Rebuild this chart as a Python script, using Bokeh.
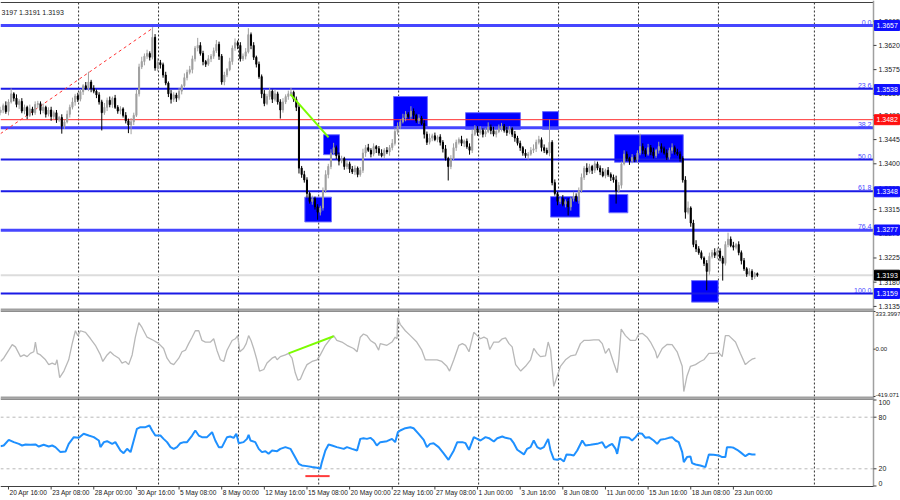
from bokeh.plotting import figure
from bokeh.models import Range1d, ColumnDataSource
from bokeh.core.properties import value
from bokeh.embed import file_html
from bokeh.resources import INLINE

# ---------------- data (GBPUSD H4) ----------------
OPEN_FIRST = 1.3495
CLOSE = [
    1.3500, 1.3508, 1.3497, 1.3515, 1.3530, 1.3522, 1.3510, 1.3516, 1.3498, 1.3505, 1.3490, 1.3502, 1.3495, 1.3510, 1.3512,
    1.3499, 1.3505, 1.3492, 1.3500, 1.3488, 1.3495, 1.3482, 1.3486, 1.3470, 1.3478, 1.3492, 1.3505, 1.3515, 1.3526, 1.3520,
    1.3534, 1.3545, 1.3540, 1.3552, 1.3540, 1.3535, 1.3528, 1.3515, 1.3495, 1.3505, 1.3518, 1.3510, 1.3522, 1.3505, 1.3498,
    1.3502, 1.3490, 1.3480, 1.3472, 1.3478, 1.3490, 1.3530, 1.3580, 1.3590, 1.3600, 1.3605, 1.3598, 1.3635, 1.3578, 1.3588,
    1.3584, 1.3565, 1.3550, 1.3530, 1.3520, 1.3528, 1.3522, 1.3535, 1.3545, 1.3560, 1.3570, 1.3575, 1.3595, 1.3615, 1.3620,
    1.3605, 1.3590, 1.3585, 1.3595, 1.3600, 1.3610, 1.3622, 1.3600, 1.3552, 1.3565, 1.3575, 1.3590, 1.3615, 1.3625, 1.3620,
    1.3595, 1.3600, 1.3608, 1.3640, 1.3620, 1.3598, 1.3585, 1.3562, 1.3530, 1.3512, 1.3525, 1.3535, 1.3520, 1.3530, 1.3515,
    1.3500, 1.3515, 1.3525, 1.3530, 1.3533, 1.3520, 1.3505, 1.3392, 1.3380, 1.3370, 1.3345, 1.3330, 1.3335, 1.3320, 1.3310,
    1.3318, 1.3350, 1.3380, 1.3395, 1.3420, 1.3430, 1.3415, 1.3405, 1.3410, 1.3395, 1.3400, 1.3390, 1.3385, 1.3392, 1.3380,
    1.3388, 1.3420, 1.3430, 1.3425, 1.3418, 1.3432, 1.3428, 1.3420, 1.3415, 1.3425, 1.3422, 1.3430, 1.3438, 1.3460, 1.3470,
    1.3478, 1.3485, 1.3492, 1.3488, 1.3498, 1.3490, 1.3480, 1.3485, 1.3475, 1.3455, 1.3440, 1.3448, 1.3452, 1.3445, 1.3450,
    1.3440, 1.3428, 1.3410, 1.3395, 1.3410, 1.3430, 1.3440, 1.3445, 1.3438, 1.3442, 1.3432, 1.3425, 1.3455, 1.3465, 1.3458,
    1.3462, 1.3455, 1.3460, 1.3468, 1.3462, 1.3455, 1.3460, 1.3465, 1.3470, 1.3462, 1.3458, 1.3465, 1.3455, 1.3448, 1.3438,
    1.3430, 1.3420, 1.3415, 1.3418, 1.3425, 1.3428, 1.3440, 1.3445, 1.3430, 1.3425, 1.3420, 1.3440, 1.3365, 1.3345, 1.3330,
    1.3335, 1.3325, 1.3330, 1.3320, 1.3335, 1.3340, 1.3332, 1.3350, 1.3375, 1.3392, 1.3385, 1.3395, 1.3388, 1.3400, 1.3392,
    1.3385, 1.3378, 1.3388, 1.3380, 1.3375, 1.3370, 1.3350, 1.3360, 1.3400, 1.3418, 1.3410, 1.3405, 1.3412, 1.3408, 1.3420,
    1.3432, 1.3425, 1.3418, 1.3430, 1.3422, 1.3415, 1.3425, 1.3432, 1.3428, 1.3420, 1.3412, 1.3425, 1.3430, 1.3422, 1.3418,
    1.3410, 1.3370, 1.3310, 1.3318, 1.3290, 1.3250, 1.3242, 1.3235, 1.3225, 1.3215, 1.3200, 1.3228, 1.3235, 1.3230, 1.3238,
    1.3225, 1.3215, 1.3250, 1.3260, 1.3248, 1.3245, 1.3250, 1.3235, 1.3220, 1.3205, 1.3195, 1.3200, 1.3190, 1.3196, 1.3193,
]
# upper / lower wick lengths in pips
WICK_UP = [
    6, 4, 8, 5, 10, 3, 7, 4, 6, 5, 3, 8, 4, 6, 5,
    4, 7, 3, 5, 6, 4, 5, 3, 6, 4, 7, 5, 8, 4, 6,
    5, 3, 7, 19, 4, 6, 3, 5, 4, 8, 5, 7, 3, 6, 4,
    5, 3, 6, 4, 7, 5, 8, 6, 9, 5, 7, 4, 19, 6, 8,
    5, 4, 6, 3, 7, 5, 4, 6, 3, 8, 5, 7, 6, 4, 14,
    6, 5, 3, 7, 4, 6, 8, 5, 4, 6, 3, 7, 5, 8, 4,
    6, 5, 7, 12, 4, 6, 3, 5, 4, 7, 5, 6, 3, 8, 4,
    5, 7, 4, 6, 8, 3, 5, 6, 4, 7, 5, 3, 6, 4, 5,
    4, 6, 8, 5, 7, 9, 4, 6, 5, 3, 7, 4, 6, 5, 3,
    6, 8, 5, 7, 4, 6, 3, 5, 7, 4, 6, 5, 8, 6, 7,
    5, 8, 6, 4, 9, 5, 3, 7, 4, 6, 5, 8, 4, 6, 3,
    5, 4, 7, 3, 6, 8, 5, 4, 7, 3, 5, 6, 9, 7, 5,
    8, 4, 6, 9, 5, 7, 3, 8, 6, 4, 7, 5, 3, 6, 4,
    5, 3, 7, 4, 6, 8, 5, 7, 4, 6, 5, 42, 4, 6, 3,
    5, 7, 4, 6, 3, 8, 5, 6, 7, 4, 9, 5, 3, 6, 4,
    5, 7, 3, 6, 4, 5, 8, 6, 4, 7, 5, 3, 6, 4, 5,
    24, 6, 4, 7, 5, 8, 3, 9, 6, 4, 7, 5, 8, 4, 6,
    5, 4, 7, 12, 3, 6, 8, 5, 4, 3, 6, 7, 5, 8, 6,
    5, 4, 6, 12, 5, 7, 3, 6, 4, 5, 3, 6, 4, 3, 2,
]
WICK_DN = [
    5, 6, 4, 7, 3, 6, 5, 8, 4, 6, 7, 3, 5, 4, 6,
    7, 5, 6, 4, 8, 5, 6, 4, 14, 5, 3, 6, 4, 7, 5,
    4, 6, 3, 5, 7, 4, 6, 5, 33, 4, 7, 5, 6, 3, 5,
    6, 4, 5, 15, 17, 6, 3, 5, 4, 7, 5, 6, 4, 5, 6,
    7, 5, 4, 6, 8, 5, 7, 4, 6, 3, 5, 4, 7, 5, 6,
    4, 7, 5, 3, 6, 5, 4, 7, 5, 6, 4, 3, 6, 5, 7,
    5, 4, 6, 3, 7, 5, 6, 4, 8, 5, 3, 6, 7, 4, 5,
    16, 5, 4, 6, 3, 5, 7, 10, 6, 5, 8, 4, 6, 5, 14,
    6, 5, 4, 7, 5, 3, 6, 8, 4, 6, 5, 7, 4, 6, 5,
    4, 5, 7, 3, 6, 4, 8, 5, 3, 6, 4, 7, 5, 4, 6,
    5, 3, 6, 4, 5, 7, 4, 6, 3, 8, 5, 4, 6, 3, 5,
    6, 7, 4, 26, 5, 3, 6, 4, 5, 7, 4, 8, 5, 3, 6,
    4, 6, 5, 3, 7, 4, 6, 3, 5, 4, 6, 3, 5, 7, 4,
    6, 5, 4, 7, 3, 5, 6, 4, 7, 5, 3, 6, 5, 4, 7,
    5, 4, 6, 16, 7, 5, 3, 6, 4, 5, 6, 3, 7, 5, 4,
    6, 3, 5, 4, 7, 5, 24, 4, 6, 3, 5, 7, 4, 5, 6,
    4, 7, 5, 3, 6, 5, 4, 6, 7, 3, 5, 4, 6, 5, 3,
    6, 5, 12, 4, 7, 5, 6, 4, 3, 5, 35, 6, 4, 5, 7,
    6, 32, 4, 5, 3, 6, 4, 5, 7, 4, 5, 3, 6, 4, 3,
]
PIP = 0.0001

# CCI (bar position, value)
CCI_X = [0.0, 1.2, 3.1, 4.4, 5.6, 7.5, 8.8, 10.0, 11.2, 12.5, 13.1, 13.8, 15.0, 16.9, 18.1, 19.4, 20.6, 21.2, 22.2, 23.8,
         25.6, 26.9, 28.1, 29.0, 30.0, 31.9, 33.8, 35.6, 37.5, 38.4, 40.0, 41.2, 42.5, 44.4, 45.6, 46.9, 48.1, 49.4, 50.6, 51.9,
         53.1, 55.0, 57.5, 59.4, 61.2, 62.5, 63.8, 65.0, 66.9, 68.1, 69.4, 70.6, 71.9, 73.1, 74.4, 75.6, 76.9, 78.8, 80.0, 81.2,
         82.5, 83.8, 85.0, 86.9, 88.1, 89.0, 89.8, 91.2, 92.2, 93.1, 94.0, 95.0, 96.2, 97.2, 98.8, 100.0, 101.9, 103.1, 103.8, 105.0,
         106.9, 108.1, 109.4, 110.6, 111.6, 112.5, 113.8, 115.0, 116.9, 118.8, 120.0, 121.9, 123.8, 125.0, 126.2, 128.1, 130.0, 132.5, 133.8, 135.0,
         136.2, 137.5, 138.8, 140.6, 141.9, 142.5, 145.0, 146.9, 148.1, 148.8, 149.0, 150.0, 151.9, 153.8, 156.2, 158.1, 159.4, 161.2, 163.8, 165.6,
         167.5, 168.5, 170.1, 172.0, 173.3, 174.5, 175.8, 177.6, 178.9, 180.1, 181.4, 182.6, 183.6, 185.1, 187.0, 188.3, 189.5, 190.8, 192.0, 193.3,
         195.2, 197.0, 198.9, 200.1, 201.4, 202.6, 204.5, 205.5, 206.4, 207.6, 208.9, 210.1, 212.0, 213.9, 215.8, 217.6, 218.9, 220.8, 222.6, 224.5,
         225.8, 227.0, 228.3, 230.1, 231.4, 232.0, 232.9, 234.5, 236.4, 238.3, 239.5, 240.8, 242.6, 243.9, 245.8, 246.4, 248.3, 250.2, 252.0, 253.9,
         255.8, 256.4, 257.6, 258.9, 260.8, 262.6, 263.9, 265.8, 267.6, 269.5, 270.8, 272.0, 273.3, 275.8, 277.6, 279.5, 280.8, 282.0, 283.3]
CCI_V = [-109, -80, -9, 40, 20, -66, -51, -66, -37, -23, 63, -37, -51, -94, -137, -123, -137, -94, -252, -194,
         -94, 49, 163, 120, 163, 149, 92, 34, -51, -109, -51, -23, -51, -80, -123, -109, -137, -51, 106, 235,
         192, 106, 77, 49, 6, -80, -123, -137, -80, -23, -9, 49, 106, 163, 163, 77, 63, 63, 92, -9,
         -94, -109, -9, 77, 92, 120, -23, 6, 49, 120, 77, 6, -94, -194, -180, -123, -80, -66, -94, -66,
         -51, -37, -80, -209, -275, -266, -194, -137, -109, -94, -51, 34, 92, 120, 77, 63, 34, 6, -23, 106,
         134, 120, 77, 49, -9, 49, 34, 63, 106, 92, 277, 220, 163, 120, 63, -9, -94, -94, -94, -109,
         -152, -194, -94, 34, 49, 34, -23, 149, 120, 92, 106, 92, -3, 63, 63, 92, 100, 49, 20, -137,
         -194, -152, -94, 6, -37, -66, -60, 63, -9, -329, -237, -152, -94, -60, -51, 49, 77, 77, 83, 83,
         49, -37, 6, -123, -209, -94, 177, 120, 77, 77, 134, 140, 106, 63, -23, -80, 6, 43, 40, -23,
         -152, -375, -237, -152, -137, -109, -94, -37, -37, -31, -66, 120, 120, 63, -37, -137, -109, -89, -80]

# RSI (bar position, value)
RSI_X = [0.0, 1.2, 3.1, 5.0, 6.9, 8.1, 9.4, 11.2, 13.1, 14.4, 16.2, 18.1, 19.4, 20.6, 22.5, 24.4, 25.6, 27.5, 29.4, 31.2,
         33.1, 35.0, 36.9, 37.5, 38.8, 40.0, 41.9, 43.1, 45.0, 46.2, 47.5, 48.8, 50.0, 51.2, 52.5, 54.4, 55.9, 56.9, 58.1, 60.0,
         61.2, 62.5, 63.8, 65.0, 66.2, 67.5, 68.8, 70.0, 71.9, 73.1, 74.4, 75.6, 77.5, 79.4, 80.6, 81.9, 83.1, 85.0, 86.2, 87.5,
         88.5, 89.4, 91.2, 92.5, 93.1, 93.8, 95.6, 96.9, 98.1, 99.4, 100.6, 101.9, 103.8, 105.0, 106.9, 108.8, 110.0, 111.9, 113.1, 115.0,
         116.9, 118.8, 120.0, 120.6, 121.9, 123.1, 124.4, 126.2, 128.8, 130.0, 131.9, 133.8, 135.0, 136.2, 137.5, 138.8, 140.0, 141.2, 142.5, 145.0,
         146.9, 148.1, 149.1, 150.0, 151.9, 153.8, 155.0, 156.9, 158.8, 160.0, 161.2, 162.5, 164.4, 166.2, 168.1, 170.1, 171.4, 173.3, 174.5, 175.8,
         177.6, 178.9, 180.1, 182.0, 183.3, 185.1, 186.4, 188.3, 189.5, 191.4, 192.6, 193.9, 196.4, 197.6, 198.9, 200.1, 201.4, 202.6, 203.9, 205.5,
         206.4, 207.6, 208.9, 210.1, 211.4, 212.4, 213.9, 215.1, 216.4, 218.3, 219.5, 221.4, 223.9, 225.8, 227.0, 228.3, 229.5, 230.8, 231.4, 232.6,
         234.5, 235.8, 237.0, 238.3, 239.5, 240.8, 242.0, 243.3, 245.1, 246.4, 247.6, 249.5, 250.8, 252.0, 253.3, 254.5, 255.8, 256.4, 257.6, 258.9,
         259.5, 260.8, 262.6, 264.5, 265.8, 267.6, 269.5, 270.8, 272.0, 272.6, 273.9, 275.1, 276.4, 277.6, 279.5, 280.8, 282.0, 283.3]
RSI_V = [46.3, 47.1, 53.7, 51.0, 49.0, 47.1, 48.3, 47.9, 48.3, 45.9, 47.9, 45.9, 47.1, 45.2, 39.4, 40.1, 49.0, 56.8, 56.0, 60.7,
         58.7, 56.8, 52.9, 45.2, 51.0, 52.1, 49.0, 51.0, 41.3, 38.2, 43.2, 39.4, 52.9, 66.5, 68.4, 68.4, 70.3, 64.5, 58.7, 58.7,
         54.8, 51.0, 45.2, 43.2, 45.2, 49.8, 51.0, 51.0, 58.7, 64.5, 58.7, 56.8, 56.8, 62.6, 52.9, 45.2, 45.2, 56.8, 57.6, 56.0,
         60.7, 49.8, 51.0, 54.8, 59.5, 52.9, 51.0, 43.2, 39.4, 40.5, 37.4, 41.3, 40.5, 43.2, 45.2, 43.2, 36.7, 25.8, 23.9, 23.1,
         22.0, 21.2, 20.0, 27.8, 41.3, 48.3, 47.1, 45.2, 43.2, 45.2, 43.2, 41.3, 54.8, 55.6, 54.8, 56.0, 52.9, 47.1, 51.0, 52.1,
         54.8, 51.0, 62.6, 64.5, 67.2, 68.4, 67.2, 60.7, 53.7, 45.2, 49.0, 49.8, 45.2, 38.2, 30.5, 41.3, 51.0, 51.0, 49.8, 42.1,
         56.8, 54.8, 52.9, 56.8, 55.6, 51.7, 55.6, 57.6, 56.0, 54.8, 49.8, 42.1, 36.7, 43.2, 45.2, 52.9, 45.2, 43.2, 45.2, 54.8,
         41.3, 31.2, 30.5, 31.6, 28.5, 36.7, 36.3, 35.5, 41.3, 52.9, 47.1, 47.9, 49.0, 51.0, 44.4, 47.1, 49.0, 43.2, 37.4, 56.8,
         56.8, 56.0, 52.9, 56.8, 61.4, 60.7, 56.0, 56.8, 52.9, 49.0, 53.7, 54.8, 56.0, 56.8, 52.9, 51.0, 39.4, 27.8, 33.6, 34.3,
         26.6, 25.0, 23.9, 22.0, 36.7, 36.3, 35.5, 33.6, 33.6, 45.2, 45.2, 44.4, 42.1, 39.4, 34.7, 37.4, 36.7, 36.7]

# drawn objects
BOX_LEFT = [114.2, 121.2, 147.5, 174.5, 203.4, 206.4, 228.3, 230.4, 259.3]
BOX_RIGHT = [124.2, 127.2, 160.2, 195.1, 209.4, 217.3, 235.4, 256.2, 269.3]
BOX_TOP = [1.3338, 1.3454, 1.3525, 1.3495, 1.3497, 1.3339, 1.3343, 1.3454, 1.3183]
BOX_BOTTOM = [1.3292, 1.3417, 1.3469, 1.3464, 1.3464, 1.3301, 1.3309, 1.3403, 1.3143]

FIB_NAMES = ["0.0", "23.6", "38.2", "50.0", "61.8", "76.4", "100.0"]
FIB_PRICES = [1.3657, 1.35395, 1.34668, 1.3408, 1.33492, 1.32765, 1.3159]
FIB_WIDTH = [3, 2, 3, 2, 2, 3, 2]
FIB_COLOR = ["#4646ff", "#1a1ae6", "#4646ff", "#1a1ae6", "#1a1ae6", "#4646ff", "#1a1ae6"]

TAG_PRICES = [1.3657, 1.3538, 1.3482, 1.3348, 1.3277, 1.3193, 1.3159]
TAG_TEXTS = ["1.3657", "1.3538", "1.3482", "1.3348", "1.3277", "1.3193", "1.3159"]
TAG_COLORS = ["#1010ff", "#1010ff", "#ff1010", "#1010ff", "#1010ff", "#000000", "#1010ff"]

RED_LEVEL = 1.3482
BID_LEVEL = 1.3193

FIB_TREND_X = [0.0, 57.4]
FIB_TREND_Y = [1.3456, 1.3653]
GREEN_PRICE_X = [108.8, 123.1]
GREEN_PRICE_Y = [1.3529, 1.3449]
GREEN_CCI_X = [108.1, 125.0]
GREEN_CCI_Y = [-37, 114]
RED_RSI_X = [114.4, 123.5]
RED_RSI_Y = [11.5, 11.5]

PRICE_TICKS = [1.3135, 1.3180, 1.3225, 1.3270, 1.3315, 1.3355, 1.3400, 1.3445, 1.3490, 1.3530, 1.3575, 1.3620, 1.3665]
TIME_TICKS = [3, 19, 35, 51, 67, 83, 99, 115, 131, 147, 163, 179, 195, 211, 227, 243, 259, 275]
TIME_LABELS = ["20 Apr 16:00", "23 Apr 08:00", "28 Apr 00:00", "30 Apr 16:00", "5 May 08:00", "8 May 00:00",
               "12 May 16:00", "15 May 08:00", "20 May 00:00", "22 May 16:00", "27 May 08:00", "1 Jun 00:00",
               "3 Jun 16:00", "8 Jun 08:00", "11 Jun 00:00", "15 Jun 16:00", "18 Jun 08:00", "23 Jun 00:00"]
GRID_BARS = [29.3, 59.3, 89.3, 119.4, 149.4, 179.4, 209.4, 239.4, 269.4, 305.4]

CCI_TOP, CCI_BOTTOM = 333.3997, -419.071
CCI_TICKS = [333.3997, 0.0, -419.071]
CCI_TICK_TEXT = ["333.3997", "0.00", "-419.071"]
CCI_TICK_BASE = ["top", "middle", "bottom"]
RSI_TICKS = [100, 80, 20, 0]
RSI_TICK_TEXT = ["100", "80", "20", "0"]
RSI_TICK_BASE = ["top", "middle", "middle", "bottom"]
RSI_LEVELS = [80, 20]
HEADER = "3197 1.3191 1.3193"

# ---------------- layout: pixel geometry of the terminal window ----------------
W, H = 900, 500
PX_PER_BAR = 2.665
AXIS_PX = 873            # right price-scale line
PANEL_TOP, PANEL_BOTTOM = 2, 486
FONT = "Liberation Sans"
FS = "7px"
FS_TIME = "6.6px"

X_MAX = W / PX_PER_BAR
AXIS_X = AXIS_PX / PX_PER_BAR


def frame_range(v1, y1, v2, y2):
    k = (v1 - v2) / (y1 - y2)
    return v1 + (H - y1) * k, v1 + (0 - y1) * k


p_start, p_end = frame_range(1.3657, 25, 1.3159, 293)
c_start, c_end = frame_range(CCI_TOP, 311, CCI_BOTTOM, 396)
r_start, r_end = frame_range(100, 399.5, 0, 485.5)
PX_PRICE = (p_end - p_start) / H


def price_at(y):
    return p_end - y * PX_PRICE


def bars(px):
    return px / PX_PER_BAR


p = figure(width=W, height=H, x_range=Range1d(0, X_MAX), y_range=Range1d(p_start, p_end),
           x_axis_location=None, y_axis_location=None, title=None,
           output_backend="svg", toolbar_location=None,
           min_border_left=0, min_border_right=0, min_border_top=0, min_border_bottom=0)
p.extra_y_ranges = {"cci": Range1d(c_start, c_end), "rsi": Range1d(r_start, r_end)}
p.outline_line_color = None
p.background_fill_color = "white"
p.border_fill_color = "white"
p.grid.visible = False


def txt(x, y, text, align="left", base="middle", color="#202020", size=FS, xo=0, yo=0, rng="default"):
    p.text(x=x, y=y, text=text, text_align=align, text_baseline=base, text_color=color,
           text_font=value(FONT), text_font_size=value(size), x_offset=xo, y_offset=yo, y_range_name=rng)


# vertical dashed grid (through all three panels)
p.segment(x0=GRID_BARS, x1=GRID_BARS, y0=[price_at(PANEL_TOP)] * len(GRID_BARS),
          y1=[price_at(PANEL_BOTTOM)] * len(GRID_BARS), line_color="#303030", line_dash="2 2", line_width=1)

# panel borders and separators
BORDER_Y = [PANEL_TOP, 310.6, 398.6]
p.segment(x0=[0] * 3, x1=[AXIS_X] * 3, y0=[price_at(y) for y in BORDER_Y], y1=[price_at(y) for y in BORDER_Y],
          line_color="#404040", line_width=1)
SEP_Y = [309, 397]
p.segment(x0=[0] * 2, x1=[AXIS_X] * 2, y0=[price_at(y) for y in SEP_Y], y1=[price_at(y) for y in SEP_Y],
          line_color="#a0a0a0", line_width=2)

# boxes
p.quad(left=BOX_LEFT, right=BOX_RIGHT, top=BOX_TOP, bottom=BOX_BOTTOM,
       fill_color="#0000ff", line_color="#7070ff", line_width=1)

# horizontal levels
p.segment(x0=[0], x1=[AXIS_X], y0=[BID_LEVEL], y1=[BID_LEVEL], line_color="#dcdcdc", line_width=2)
p.segment(x0=[0], x1=[AXIS_X], y0=[RED_LEVEL], y1=[RED_LEVEL], line_color="#ff3030", line_width=1)
k = len(FIB_PRICES)
p.segment(x0=[0] * k, x1=[AXIS_X] * k, y0=FIB_PRICES, y1=FIB_PRICES, line_color=FIB_COLOR, line_width=FIB_WIDTH)

p.line(FIB_TREND_X, FIB_TREND_Y, line_color="#ff3030", line_dash="3 3", line_width=1)

# candles
n = min(len(CLOSE), len(WICK_UP), len(WICK_DN))
xs = list(range(n))
opens = [OPEN_FIRST] + CLOSE[:n - 1]
closes = CLOSE[:n]
highs = [max(o, c) + u * PIP for o, c, u in zip(opens, closes, WICK_UP)]
lows = [min(o, c) - d * PIP for o, c, d in zip(opens, closes, WICK_DN)]
cols = ["#a0a0a0" if c >= o else "#000000" for o, c in zip(opens, closes)]
src = ColumnDataSource(dict(x=xs, h=highs, l=lows,
                            top=[max(a, b) for a, b in zip(opens, closes)],
                            bot=[min(a, b) for a, b in zip(opens, closes)], col=cols))
p.segment(x0="x", y0="l", x1="x", y1="h", line_color="col", line_width=1, source=src)
p.vbar(x="x", width=0.4, top="top", bottom="bot", fill_color="col", line_color="col", line_width=1, source=src)

p.line(GREEN_PRICE_X, GREEN_PRICE_Y, line_color="#7cfc00", line_width=2)

# CCI panel
p.line(CCI_X, CCI_V, y_range_name="cci", line_color="#b8b8b8", line_width=1.3)
p.line(GREEN_CCI_X, GREEN_CCI_Y, y_range_name="cci", line_color="#7cfc00", line_width=2)

# RSI panel
p.segment(x0=[0] * 2, x1=[AXIS_X] * 2, y0=RSI_LEVELS, y1=RSI_LEVELS, y_range_name="rsi",
          line_color="#b8b8b8", line_dash="3 3", line_width=1)
p.line(RSI_X, RSI_V, y_range_name="rsi", line_color="#1e90ff", line_width=2)
p.line(RED_RSI_X, RED_RSI_Y, y_range_name="rsi", line_color="#ff3b3b", line_width=2)

# fib level names
txt([AXIS_X] * k, FIB_PRICES, FIB_NAMES, align="right", base="bottom", color="#4a4aff", xo=-2, yo=-1)

# ---- right price scale ----
p.segment(x0=[AXIS_X], x1=[AXIS_X], y0=[price_at(0)], y1=[price_at(PANEL_BOTTOM)],
          line_color="#a0a0a0", line_width=1.5)
m = len(PRICE_TICKS)
p.segment(x0=[AXIS_X] * m, x1=[AXIS_X + bars(3)] * m, y0=PRICE_TICKS, y1=PRICE_TICKS,
          line_color="#404040", line_width=1)
txt([AXIS_X] * m, PRICE_TICKS, [f"{t:.4f}" for t in PRICE_TICKS], xo=5)

# price tags on the scale
TAG_H = 5 * PX_PRICE
j = len(TAG_PRICES)
p.quad(left=[AXIS_X + bars(1)] * j, right=[AXIS_X + bars(26)] * j,
       top=[t + TAG_H for t in TAG_PRICES], bottom=[t - TAG_H for t in TAG_PRICES],
       fill_color=TAG_COLORS, line_color=TAG_COLORS)
txt([AXIS_X] * j, TAG_PRICES, TAG_TEXTS, color="white", xo=3)

# indicator scales
c3 = len(CCI_TICKS)
p.segment(x0=[AXIS_X] * c3, x1=[AXIS_X + bars(2)] * c3, y0=CCI_TICKS, y1=CCI_TICKS, y_range_name="cci",
          line_color="#404040", line_width=1)
for v, tx, b in zip(CCI_TICKS, CCI_TICK_TEXT, CCI_TICK_BASE):
    txt([AXIS_X], [v], [tx], base=b, size="6px", xo=2, rng="cci")
r4 = len(RSI_TICKS)
p.segment(x0=[AXIS_X] * r4, x1=[AXIS_X + bars(3)] * r4, y0=RSI_TICKS, y1=RSI_TICKS, y_range_name="rsi",
          line_color="#404040", line_width=1)
for v, tx, b in zip(RSI_TICKS, RSI_TICK_TEXT, RSI_TICK_BASE):
    txt([AXIS_X], [v], [tx], base=b, xo=5, rng="rsi")

# ---- time scale ----
p.segment(x0=[0], x1=[AXIS_X], y0=[price_at(PANEL_BOTTOM)], y1=[price_at(PANEL_BOTTOM)],
          line_color="#404040", line_width=1)
q = len(TIME_TICKS)
p.segment(x0=TIME_TICKS, x1=TIME_TICKS, y0=[price_at(PANEL_BOTTOM)] * q, y1=[price_at(PANEL_BOTTOM + 3)] * q,
          line_color="#404040", line_width=1)
txt(TIME_TICKS, [price_at(PANEL_BOTTOM + 2)] * q, TIME_LABELS, base="top", size=FS_TIME, xo=1)

# header (truncated OHLC line of the terminal)
txt([0], [price_at(12)], [HEADER], xo=1)

open("out.html", "w").write(file_html(p, INLINE))
